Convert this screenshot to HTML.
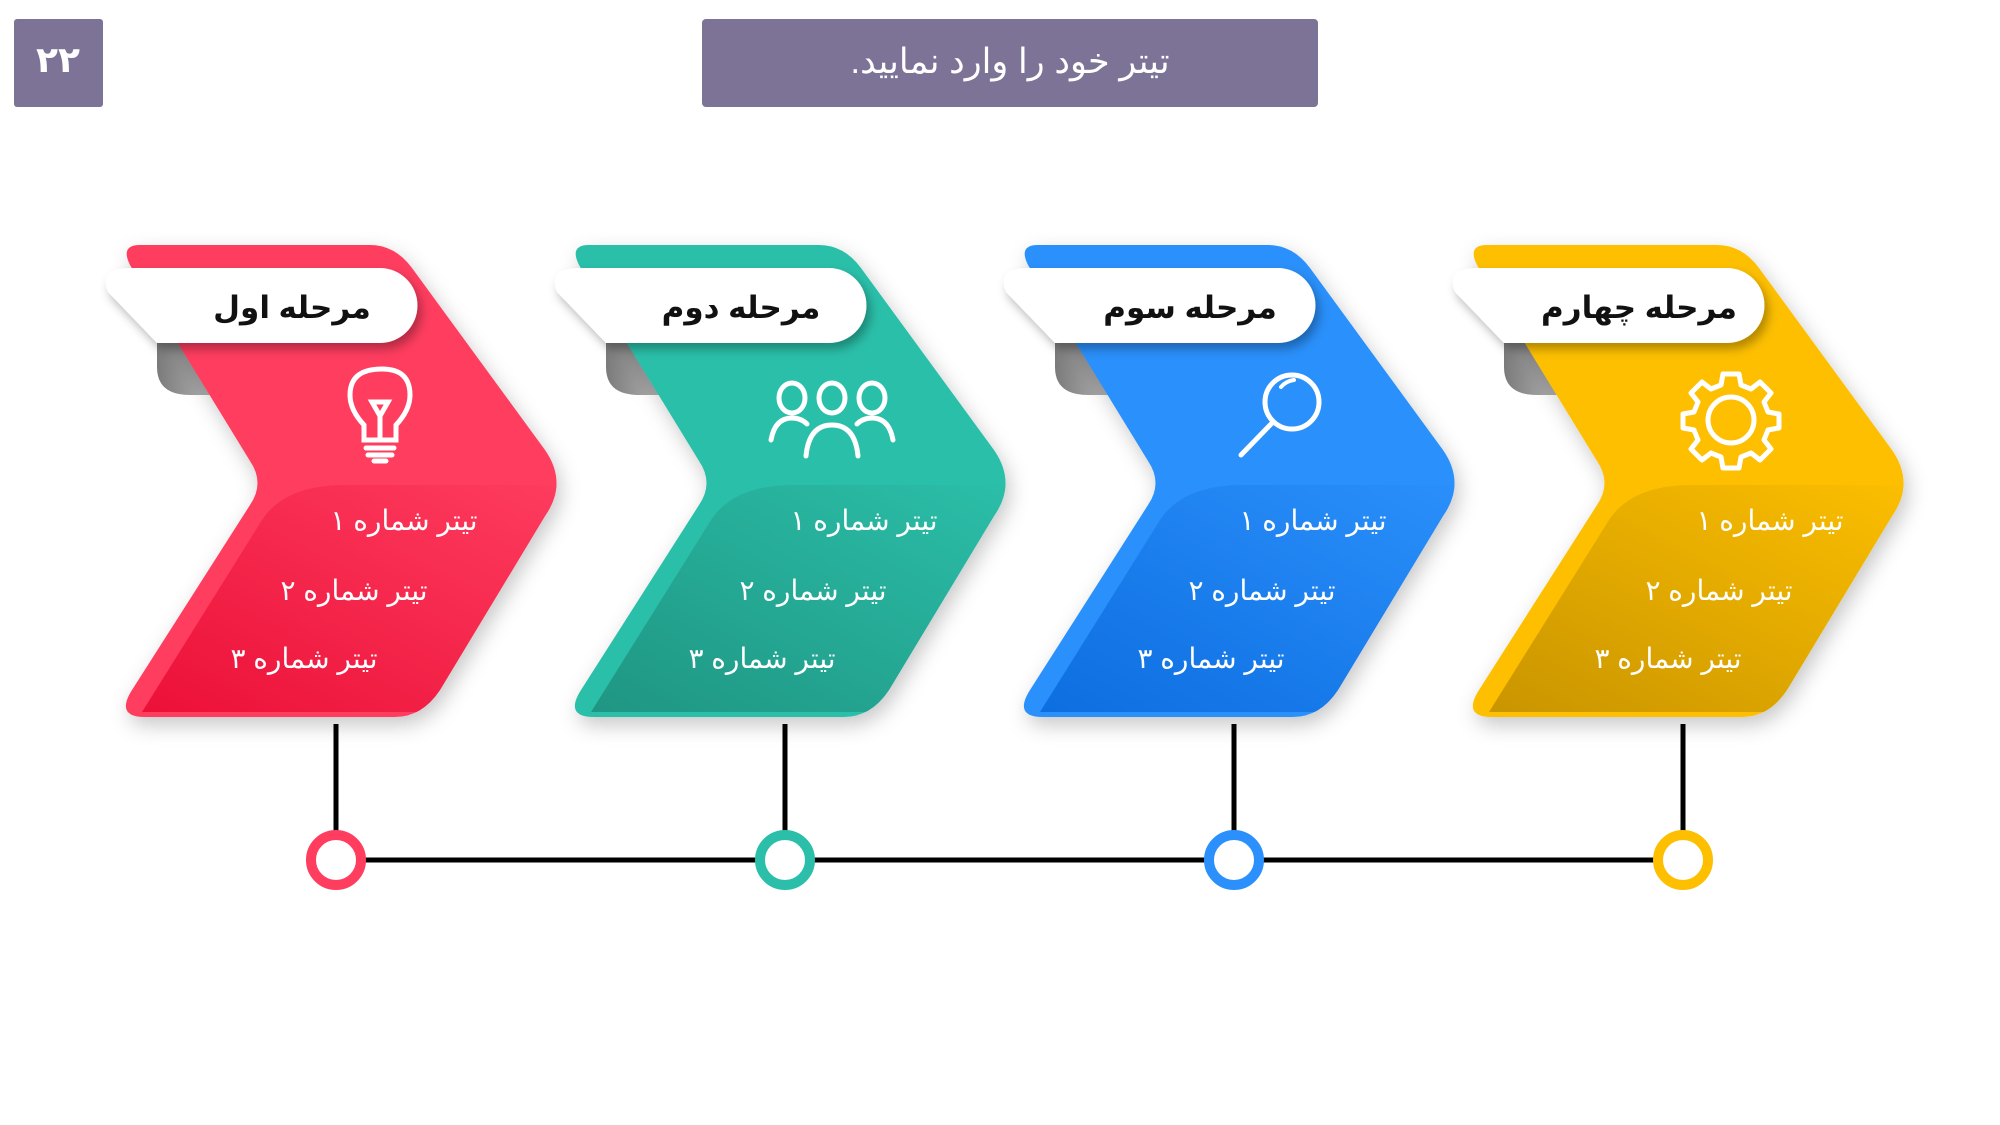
<!DOCTYPE html>
<html><head><meta charset="utf-8"><style>
html,body{margin:0;padding:0;background:#fff;width:2000px;height:1125px;overflow:hidden}
svg{display:block}
text{font-family:"Liberation Sans","DejaVu Sans",sans-serif}
</style></head><body>
<svg width="2000" height="1125" viewBox="0 0 2000 1125" xmlns="http://www.w3.org/2000/svg">
<defs>
<filter id="sh" x="-20%" y="-20%" width="140%" height="150%"><feDropShadow dx="4" dy="8" stdDeviation="10" flood-color="#000" flood-opacity="0.22"/></filter>
<filter id="sh2" x="-20%" y="-30%" width="140%" height="180%"><feDropShadow dx="4" dy="6" stdDeviation="5" flood-color="#000" flood-opacity="0.3"/></filter>
<linearGradient id="curl" x1="0" y1="0" x2="1" y2="0"><stop offset="0" stop-color="#7a7a7a"/><stop offset="1" stop-color="#c8c8c8"/></linearGradient>
<linearGradient id="g0" x1="0" y1="1" x2="1" y2="0"><stop offset="0" stop-color="#ec1038"/><stop offset="1" stop-color="#fe3d5f"/></linearGradient>
<linearGradient id="g1" x1="0" y1="1" x2="1" y2="0"><stop offset="0" stop-color="#1f9683"/><stop offset="1" stop-color="#2bbfa9"/></linearGradient>
<linearGradient id="g2" x1="0" y1="1" x2="1" y2="0"><stop offset="0" stop-color="#0d6ee0"/><stop offset="1" stop-color="#2b90fb"/></linearGradient>
<linearGradient id="g3" x1="0" y1="1" x2="1" y2="0"><stop offset="0" stop-color="#c99500"/><stop offset="1" stop-color="#fdbf00"/></linearGradient>
<clipPath id="cc"><path d="M140 245 L370 245 Q395 245 412 268 L545 450 Q568 483 545 516 L440 690 Q422 717 395 717 L145 717 Q115 717 132 690 L250 505 Q265 483 250 461 L130 265 Q120 245 140 245 Z"/></clipPath>
<path id="chev" d="M140 245 L370 245 Q395 245 412 268 L545 450 Q568 483 545 516 L440 690 Q422 717 395 717 L145 717 Q115 717 132 690 L250 505 Q265 483 250 461 L130 265 Q120 245 140 245 Z"/>
<path id="low" d="M345 485 L580 485 L580 712 L142 712 L262 520 Q285 485 345 485 Z"/>
<path id="tab" d="M130 268 L380 268 A37.5 37.5 0 0 1 380 343 L157 343 L108 292 Q98 268 130 268 Z"/>
<path id="curlp" d="M157 343 L200 343 L232 395 L190 395 Q157 395 157 367 Z"/>
</defs>

<rect x="14" y="19" width="89" height="88" rx="3" fill="#7d7397"/>
<text x="58" y="72" fill="#fff" font-size="36" font-weight="bold" text-anchor="middle">۲۲</text>
<rect x="702" y="19" width="616" height="88" rx="4" fill="#7d7397"/>
<text x="1010" y="73" fill="#fff" font-size="35" text-anchor="middle" direction="rtl">تیتر خود را وارد نمایید.</text>

<g stroke="#000" stroke-width="5">
<line x1="336" y1="860" x2="1686" y2="860"/>
<line x1="336" y1="724" x2="336" y2="860"/>
<line x1="785" y1="724" x2="785" y2="860"/>
<line x1="1234" y1="724" x2="1234" y2="860"/>
<line x1="1683" y1="724" x2="1683" y2="860"/>
</g>
<circle cx="336" cy="860" r="25" fill="#fff" stroke="#fe3d5f" stroke-width="10"/>
<circle cx="785" cy="860" r="25" fill="#fff" stroke="#2bbfa9" stroke-width="10"/>
<circle cx="1234" cy="860" r="25" fill="#fff" stroke="#2b90fb" stroke-width="10"/>
<circle cx="1683" cy="860" r="25" fill="#fff" stroke="#fdbf00" stroke-width="10"/>

<g>
<use href="#curlp" fill="url(#curl)"/>
<use href="#chev" fill="#fe3d5f" filter="url(#sh)"/>
<use href="#low" fill="url(#g0)" clip-path="url(#cc)"/>
<use href="#tab" fill="#fff" filter="url(#sh2)"/>
<text x="292" y="318" font-size="31" font-weight="bold" text-anchor="middle" direction="rtl" fill="#111">مرحله اول</text>
<g fill="#fff" font-size="28" text-anchor="middle" direction="rtl">
<text x="404" y="530">تیتر شماره ۱</text><text x="354" y="600">تیتر شماره ۲</text><text x="304" y="668">تیتر شماره ۳</text></g>
<g stroke="#fff" stroke-width="5" fill="none" stroke-linecap="round">
<path d="M364 440 L364 425 Q350 410 350 395 Q350 369 382 369 Q410 369 410 395 Q410 410 396 425 L396 440 Z"/>
<path d="M372 402 L388 402 L380 416 Z M380 416 L380 440"/>
<line x1="366" y1="448" x2="394" y2="448"/><line x1="368" y1="455" x2="392" y2="455"/><line x1="374" y1="461" x2="386" y2="461"/>
</g>
</g>

<g transform="translate(449,0)">
<use href="#curlp" fill="url(#curl)"/>
<use href="#chev" fill="#2bbfa9" filter="url(#sh)"/>
<use href="#low" fill="url(#g1)" clip-path="url(#cc)"/>
<use href="#tab" fill="#fff" filter="url(#sh2)"/>
<text x="292" y="318" font-size="31" font-weight="bold" text-anchor="middle" direction="rtl" fill="#111">مرحله دوم</text>
<g fill="#fff" font-size="28" text-anchor="middle" direction="rtl">
<text x="415" y="530">تیتر شماره ۱</text><text x="364" y="600">تیتر شماره ۲</text><text x="313" y="668">تیتر شماره ۳</text></g>
<g stroke="#fff" stroke-width="5" fill="none" stroke-linecap="round">
<ellipse cx="343" cy="398" rx="13" ry="15"/><ellipse cx="383" cy="398" rx="13" ry="15"/><ellipse cx="423" cy="398" rx="13" ry="15"/>
<path d="M322 440 Q326 418 343 418 Q352 418 358 424"/>
<path d="M444 440 Q440 418 423 418 Q414 418 408 424"/>
<path d="M357 456 Q360 425 383 425 Q406 425 409 456"/>
</g>
</g>

<g transform="translate(898,0)">
<use href="#curlp" fill="url(#curl)"/>
<use href="#chev" fill="#2b90fb" filter="url(#sh)"/>
<use href="#low" fill="url(#g2)" clip-path="url(#cc)"/>
<use href="#tab" fill="#fff" filter="url(#sh2)"/>
<text x="292" y="318" font-size="31" font-weight="bold" text-anchor="middle" direction="rtl" fill="#111">مرحله سوم</text>
<g fill="#fff" font-size="28" text-anchor="middle" direction="rtl">
<text x="415" y="530">تیتر شماره ۱</text><text x="364" y="600">تیتر شماره ۲</text><text x="313" y="668">تیتر شماره ۳</text></g>
<g stroke="#fff" stroke-width="5" fill="none" stroke-linecap="round">
<circle cx="394" cy="402" r="27"/>
<line x1="375" y1="422" x2="343" y2="455"/>
<path d="M383 387 Q388 381 396 380" stroke-width="4"/>
</g>
</g>

<g transform="translate(1347,0)">
<use href="#curlp" fill="url(#curl)"/>
<use href="#chev" fill="#fdbf00" filter="url(#sh)"/>
<use href="#low" fill="url(#g3)" clip-path="url(#cc)"/>
<use href="#tab" fill="#fff" filter="url(#sh2)"/>
<text x="292" y="318" font-size="31" font-weight="bold" text-anchor="middle" direction="rtl" fill="#111">مرحله چهارم</text>
<g fill="#fff" font-size="28" text-anchor="middle" direction="rtl">
<text x="423" y="530">تیتر شماره ۱</text><text x="372" y="600">تیتر شماره ۲</text><text x="321" y="668">تیتر شماره ۳</text></g>
<g stroke="#fff" stroke-width="5" fill="none" stroke-linejoin="round">
<circle cx="384" cy="420" r="23"/>
<path d="M376 374 L392 374 L394 385 L404 389 L413 382 L424 393 L417 402 L421 412 L432 414 L432 428 L421 430 L417 440 L424 449 L413 460 L404 453 L394 457 L392 468 L376 468 L374 457 L364 453 L355 460 L344 449 L351 440 L347 430 L336 428 L336 414 L347 412 L351 402 L344 393 L355 382 L364 389 L374 385 Z"/>
</g>
</g>
</svg>
</body></html>
